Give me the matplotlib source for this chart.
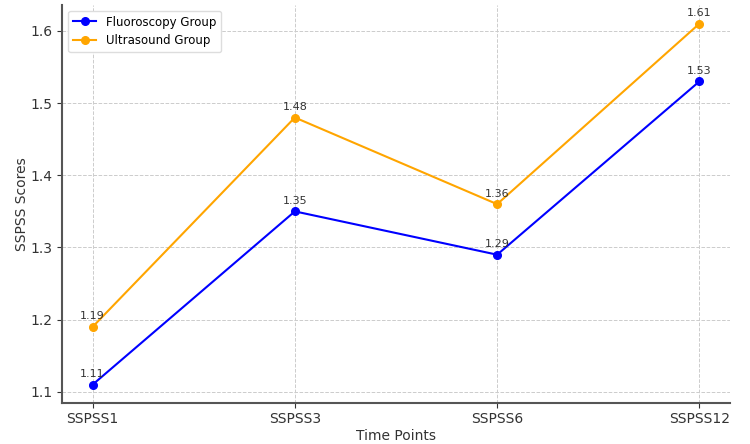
import matplotlib
matplotlib.use("Agg")
import matplotlib.pyplot as plt

time_points = ["SSPSS1", "SSPSS3", "SSPSS6", "SSPSS12"]
fluoroscopy = [1.11, 1.35, 1.29, 1.53]
ultrasound = [1.19, 1.48, 1.36, 1.61]

fig = plt.figure(figsize=(7.5, 4.44), dpi=100)
ax = fig.add_axes([0.083, 0.093, 0.89, 0.896])

x = list(range(len(time_points)))
ax.plot(x, fluoroscopy, marker="o", color="blue", lw=1.5, ms=5.5, label="Fluoroscopy Group")
ax.plot(x, ultrasound, marker="o", color="orange", lw=1.5, ms=5.5, label="Ultrasound Group")

# valeurs au-dessus des points
for series in (fluoroscopy, ultrasound):
    for xi, v in zip(x, series):
        ax.annotate(f"{v:.2f}", (xi, v), xytext=(0, 4), textcoords="offset points",
                    ha="center", va="bottom", fontsize=8, color="#333333")

ax.set_xticks(x)
ax.set_xticklabels(time_points)
ax.set_xlim(-0.15, 3.15)
ax.set_ylim(1.085, 1.636)
ax.set_xlabel("Time Points", fontsize=10, color="#333333", labelpad=2)
ax.set_ylabel("SSPSS Scores", fontsize=10, color="#333333", labelpad=1)
ax.tick_params(labelsize=10, colors="#333333")
ax.grid(True, linestyle="--", color="#cccccc", linewidth=0.7)

for side in ("top", "right"):
    ax.spines[side].set_visible(False)
for side in ("left", "bottom"):
    ax.spines[side].set_color("#555555")
    ax.spines[side].set_linewidth(1.5)

ax.legend(loc="upper left", fontsize=8.5, framealpha=1, edgecolor="#dddddd")

fig.savefig("out.png", dpi=100)
